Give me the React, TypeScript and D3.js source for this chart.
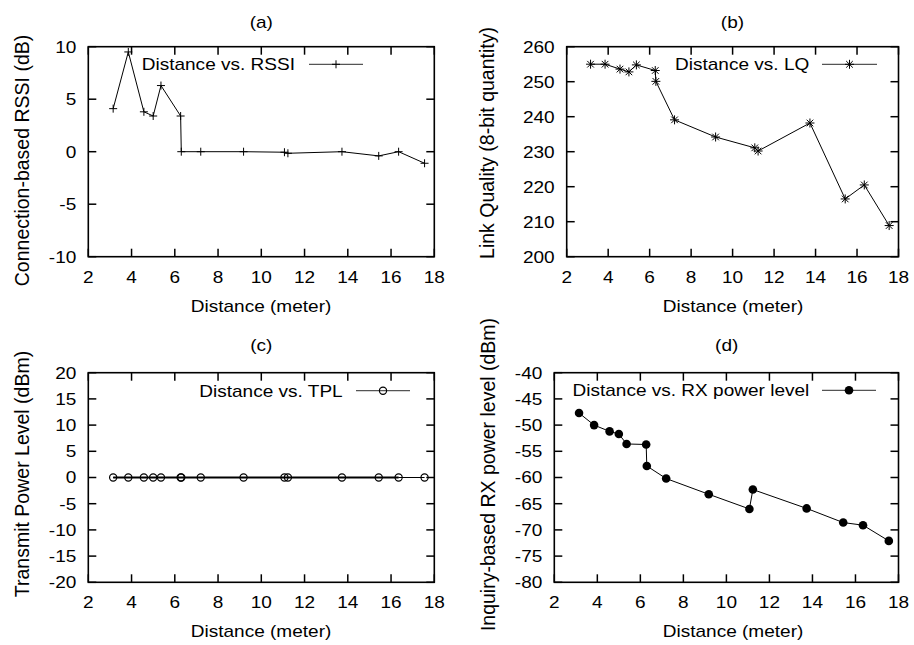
import React from "react";
import * as d3 from "d3";

// ---- data ----
const distances = [3.15, 3.85, 4.57, 5.0, 5.36, 6.27, 6.3, 7.2, 9.18, 11.07, 11.23, 13.73, 15.43, 16.35, 17.55];
const rssi = [4.1, 9.5, 3.8, 3.4, 6.3, 3.4, 0, 0, 0, -0.05, -0.15, 0, -0.4, 0, -1.1];
const linkQuality = [255, 255, 253.6, 252.8, 254.8, 253.2, 250.1, 239.1, 234.2, 231.1, 230.2, 238.2, 216.5, 220.5, 208.9];
const tpl = [0, 0, 0, 0, 0, 0, 0, 0, 0, 0, 0, 0, 0, 0, 0];
const rxPower = [-47.7, -50.0, -51.2, -51.7, -53.6, -53.7, -57.8, -60.2, -63.2, -66.0, -62.3, -65.9, -68.6, -69.1, -72.1];

const xTicks = [2, 4, 6, 8, 10, 12, 14, 16, 18];
const yTicksA = [-10, -5, 0, 5, 10];
const yTicksB = [200, 210, 220, 230, 240, 250, 260];
const yTicksC = [-20, -15, -10, -5, 0, 5, 10, 15, 20];
const yTicksD = [-80, -75, -70, -65, -60, -55, -50, -45, -40];

const FONT = "'Liberation Sans', Arial, Helvetica, sans-serif";
const FS = 17;
const SX = 1.12;
const RFS = 19.5;

type Marker = "plus" | "star" | "circle" | "dot";

interface PanelProps {
  title: string;
  titleX: number;
  titleY: number;
  left: number;
  right: number;
  top: number;
  bottom: number;
  yDomain: [number, number];
  yTicks: number[];
  values: number[];
  marker: Marker;
  legend: string;
  legendRight: number;
  legendLineX0: number;
  legendLineX1: number;
  legendY: number;
  yLabel: string;
  yLabelX: number;
  yLabelY: number;
  xLabelX: number;
  thickLine?: boolean;
}

function HText(props: { x: number; y: number; anchor: string; children: React.ReactNode }) {
  return (
    <text
      transform={`translate(${props.x},${props.y}) scale(${SX},1)`}
      textAnchor={props.anchor as any}
      dy="0.35em"
      fontSize={FS}
      fontFamily={FONT}
      fill="#000"
    >
      {props.children}
    </text>
  );
}

function drawMarker(m: Marker, x: number, y: number, key: string | number) {
  if (m === "plus") {
    const s = 4;
    return (
      <path key={key} d={`M${x - s},${y}H${x + s}M${x},${y - s}V${y + s}`} stroke="#000" strokeWidth={1} fill="none" />
    );
  }
  if (m === "star") {
    const s = 4.5;
    const t = 3.3;
    return (
      <path
        key={key}
        d={`M${x - s},${y}H${x + s}M${x},${y - s}V${y + s}M${x - t},${y - t}L${x + t},${y + t}M${x - t},${y + t}L${x + t},${y - t}`}
        stroke="#000"
        strokeWidth={1}
        fill="none"
      />
    );
  }
  if (m === "circle") {
    return <circle key={key} cx={x} cy={y} r={3.6} stroke="#000" strokeWidth={1.2} fill="none" />;
  }
  return <circle key={key} cx={x} cy={y} r={4.3} fill="#000" />;
}

function Panel(p: PanelProps) {
  const xs = d3.scaleLinear().domain([2, 18]).range([p.left, p.right]);
  const ys = d3.scaleLinear().domain(p.yDomain).range([p.bottom, p.top]);
  const pts: [number, number][] = distances.map((d, i) => [xs(d), ys(p.values[i])]);
  const line = d3.line();
  const tl = 8;
  return (
    <g>
      <text x={p.titleX} y={p.titleY} dy="0.35em" textAnchor="middle" fontSize={FS} fontFamily={FONT}
        transform={`translate(${p.titleX * (1 - SX)},0) scale(${SX},1)`}>
        {p.title}
      </text>
      {/* ticks */}
      {xTicks.map((t) => (
        <g key={"xt" + t}>
          <line x1={xs(t)} x2={xs(t)} y1={p.bottom} y2={p.bottom - tl} stroke="#000" strokeWidth={1.5} />
          <line x1={xs(t)} x2={xs(t)} y1={p.top} y2={p.top + tl} stroke="#000" strokeWidth={1.5} />
          <HText x={xs(t)} y={p.bottom + 20} anchor="middle">{t}</HText>
        </g>
      ))}
      {p.yTicks.map((t) => (
        <g key={"yt" + t}>
          <line x1={p.left} x2={p.left + tl} y1={ys(t)} y2={ys(t)} stroke="#000" strokeWidth={1.5} />
          <line x1={p.right} x2={p.right - tl} y1={ys(t)} y2={ys(t)} stroke="#000" strokeWidth={1.5} />
          <HText x={p.left - 12} y={ys(t)} anchor="end">{t}</HText>
        </g>
      ))}
      {/* data */}
      <path d={line(pts) || ""} fill="none" stroke="#000" strokeWidth={1} />
      {p.thickLine && <path d={line(pts.slice(0, -1)) || ""} fill="none" stroke="#000" strokeWidth={2.2} />}
      {pts.map((q, i) => drawMarker(p.marker, q[0], q[1], i))}
      {/* legend */}
      <HText x={p.legendRight} y={p.legendY} anchor="end">{p.legend}</HText>
      <line x1={p.legendLineX0} x2={p.legendLineX1} y1={p.legendY} y2={p.legendY} stroke="#555" strokeWidth={1.2} />
      {drawMarker(p.marker, (p.legendLineX0 + p.legendLineX1) / 2, p.legendY, "lg")}
      {/* frame */}
      <rect x={p.left} y={p.top} width={p.right - p.left} height={p.bottom - p.top} fill="none" stroke="#000" strokeWidth={1.6} />
      {/* axis labels */}
      <HText x={p.xLabelX} y={p.bottom + 49} anchor="middle">Distance (meter)</HText>
      <text
        transform={`translate(${p.yLabelX},${p.yLabelY}) rotate(-90)`}
        textAnchor="middle"
        dy="0.35em"
        fontSize={RFS}
        fontFamily={FONT}
      >
        {p.yLabel}
      </text>
    </g>
  );
}

export default function App() {
  return (
    <svg width={914} height={645} style={{ position: "absolute", left: 0, top: 0, background: "#fff" }}>
      <rect x={0} y={0} width={914} height={645} fill="#fff" />
      <Panel
        title="(a)" titleX={261.3} titleY={21.7}
        left={88.3} right={434.3} top={46.7} bottom={256.7}
        yDomain={[-10, 10]} yTicks={yTicksA} values={rssi} marker="plus"
        legend="Distance vs. RSSI" legendRight={295} legendLineX0={309} legendLineX1={363} legendY={64.3}
        yLabel="Connection-based RSSI (dB)" yLabelX={22.5} yLabelY={160.5} xLabelX={261}
      />
      <Panel
        title="(b)" titleX={732.5} titleY={21.7}
        left={566.7} right={898.5} top={46.7} bottom={256.7}
        yDomain={[200, 260]} yTicks={yTicksB} values={linkQuality} marker="star"
        legend="Distance vs. LQ" legendRight={809.3} legendLineX0={822} legendLineX1={877} legendY={64.3}
        yLabel="Link Quality (8-bit quantity)" yLabelX={487} yLabelY={143} xLabelX={733}
      />
      <Panel
        title="(c)" titleX={261.3} titleY={345}
        left={88.3} right={434.3} top={372.7} bottom={582.3}
        yDomain={[-20, 20]} yTicks={yTicksC} values={tpl} marker="circle"
        legend="Distance vs. TPL" legendRight={342.7} legendLineX0={356} legendLineX1={410} legendY={390.7}
        yLabel="Transmit Power Level (dBm)" yLabelX={22.5} yLabelY={474} xLabelX={261}
        thickLine
      />
      <Panel
        title="(d)" titleX={726.7} titleY={345}
        left={554.3} right={898.5} top={372.7} bottom={582.3}
        yDomain={[-80, -40]} yTicks={yTicksD} values={rxPower} marker="dot"
        legend="Distance vs. RX power level" legendRight={809.3} legendLineX0={822} legendLineX1={876} legendY={390.3}
        yLabel="Inquiry-based RX power level (dBm)" yLabelX={488} yLabelY={474.5} xLabelX={733}
      />
    </svg>
  );
}
